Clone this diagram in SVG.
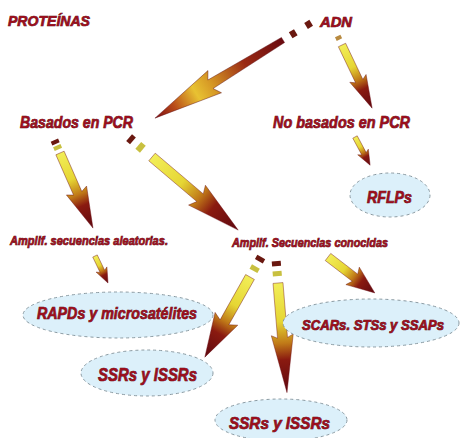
<svg xmlns="http://www.w3.org/2000/svg" width="460" height="438" viewBox="0 0 460 438">
<defs>
<linearGradient id="gArrow" x1="0" y1="0" x2="1" y2="0">
<stop offset="0" stop-color="#f2ee58"/>
<stop offset="0.35" stop-color="#e6d634"/>
<stop offset="0.55" stop-color="#c07a18"/>
<stop offset="0.7" stop-color="#8a1a10"/>
<stop offset="1" stop-color="#5e0810"/>
</linearGradient>
<linearGradient id="gBig" x1="0" y1="0" x2="1" y2="0">
<stop offset="0" stop-color="#6a0a10"/>
<stop offset="0.3" stop-color="#9a2a14"/>
<stop offset="0.55" stop-color="#d49424"/>
<stop offset="0.68" stop-color="#e8c232"/>
<stop offset="0.85" stop-color="#b84a18"/>
<stop offset="1" stop-color="#7a0a12"/>
</linearGradient>
<style>
.lbl{font-family:"Liberation Sans",Arial,sans-serif;font-weight:bold;font-style:italic;fill:#9a0e1c;stroke:#50060c;stroke-width:0.7;paint-order:stroke}
.bub{fill:#dcf0fa;stroke:#8a9aa2;stroke-width:1;stroke-dasharray:3 3}
.arr{fill:url(#gArrow);stroke:#6a0a10;stroke-width:0.4}
.big{fill:url(#gBig);stroke:#5a0810;stroke-width:0.4}
.dk{fill:#6a1810}
.yl{fill:#c8c040}
.tn{fill:#b88a40}
</style>
</defs>
<rect width="460" height="438" fill="#ffffff"/>

<g id="connectors">
<g transform="translate(283,40) rotate(148.6)">
<rect class="dk" x="-15" y="-3.5" width="6" height="7"/>
<rect class="dk" x="-33" y="-3.5" width="6" height="7"/>
<path class="big" d="M0,-3 L85,-5 L80,-13 L150,0 L80,13 L85,5 L0,3 Z"/>
</g>
<g transform="translate(342,45) rotate(64.5)">
<rect class="tn" x="-10" y="-3" width="4" height="6"/>
<path class="arr" d="M0,-4 L40,-4 L37,-9 L70,0 L37,9 L40,4 L0,4 Z"/>
</g>
<g transform="translate(152,157) rotate(40.3)">
<rect class="yl" x="-18" y="-4.5" width="6" height="9"/>
<rect class="dk" x="-30" y="-4.5" width="5" height="9"/>
<path class="arr" d="M0,-5 L63,-5 L59,-13 L113,0 L59,13 L63,5 L0,5 Z"/>
</g>
<g transform="translate(60,153) rotate(66.3)">
<rect class="yl" x="-8" y="-4" width="4" height="8"/>
<rect class="dk" x="-14" y="-4" width="4" height="8"/>
<path class="arr" d="M0,-4.5 L44,-4.5 L41,-11 L82,0 L41,11 L44,4.5 L0,4.5 Z"/>
</g>
<g transform="translate(95,256) rotate(64.3)">
<path class="arr" d="M0,-2.5 L17,-2.5 L15,-6 L30,0 L15,6 L17,2.5 L0,2.5 Z"/>
</g>
<g transform="translate(355,137) rotate(61.8)">
<path class="arr" d="M0,-2.5 L19,-2.5 L17,-6 L32,0 L17,6 L19,2.5 L0,2.5 Z"/>
</g>
<g transform="translate(250,277) rotate(119.4)">
<rect class="yl" x="-12" y="-4.5" width="5" height="9"/>
<rect class="dk" x="-23" y="-4.5" width="5" height="9"/>
<path class="arr" d="M0,-5 L52,-5 L48,-13 L92,0 L48,13 L52,5 L0,5 Z"/>
</g>
<g transform="translate(278,283) rotate(85.3)">
<rect class="yl" x="-12" y="-4.5" width="5" height="9"/>
<rect class="dk" x="-22" y="-4.5" width="5" height="9"/>
<path class="arr" d="M0,-5 L55,-5 L52,-11 L110,0 L52,11 L55,5 L0,5 Z"/>
</g>
<g transform="translate(328,257) rotate(37.5)">
<path class="arr" d="M0,-4.5 L34,-4.5 L31,-11 L59,0 L31,11 L34,4.5 L0,4.5 Z"/>
</g>
</g>

<g id="proteinas"><text class="lbl" x="8" y="26" font-size="15" textLength="82" lengthAdjust="spacingAndGlyphs">PROTEÍNAS</text></g>
<g id="adn"><text class="lbl" x="320" y="27" font-size="15" textLength="32" lengthAdjust="spacingAndGlyphs">ADN</text></g>
<g id="basados"><text class="lbl" x="20" y="128" font-size="17" textLength="113" lengthAdjust="spacingAndGlyphs">Basados en PCR</text></g>
<g id="nobasados"><text class="lbl" x="273" y="128" font-size="17" textLength="137" lengthAdjust="spacingAndGlyphs">No basados en PCR</text></g>
<g id="rflps">
<ellipse class="bub" cx="390" cy="195" rx="40" ry="22"/>
<text class="lbl" x="367" y="203" font-size="17" textLength="45" lengthAdjust="spacingAndGlyphs">RFLPs</text>
</g>
<g id="aleatorias"><text class="lbl" x="10" y="245" font-size="13" textLength="158" lengthAdjust="spacingAndGlyphs">Amplif. secuencias aleatorias.</text></g>
<g id="conocidas"><text class="lbl" x="232" y="247" font-size="13" textLength="156" lengthAdjust="spacingAndGlyphs">Amplif. Secuencias conocidas</text></g>
<g id="rapds">
<ellipse class="bub" cx="118" cy="315" rx="95" ry="23"/>
<text class="lbl" x="37" y="319" font-size="17" textLength="160" lengthAdjust="spacingAndGlyphs">RAPDs y microsatélites</text>
</g>
<g id="ssrs1">
<ellipse class="bub" cx="147" cy="373" rx="66" ry="23"/>
<text class="lbl" x="98" y="381" font-size="18" textLength="99" lengthAdjust="spacingAndGlyphs">SSRs  y ISSRs</text>
</g>
<g id="scars">
<ellipse class="bub" cx="371" cy="323" rx="88" ry="24"/>
<text class="lbl" x="302" y="330" font-size="14" textLength="142" lengthAdjust="spacingAndGlyphs">SCARs. STSs y SSAPs</text>
</g>
<g id="ssrs2">
<ellipse class="bub" cx="281" cy="420" rx="66" ry="21"/>
<text class="lbl" x="229" y="429" font-size="17" textLength="101" lengthAdjust="spacingAndGlyphs">SSRs y ISSRs</text>
</g>
</svg>
